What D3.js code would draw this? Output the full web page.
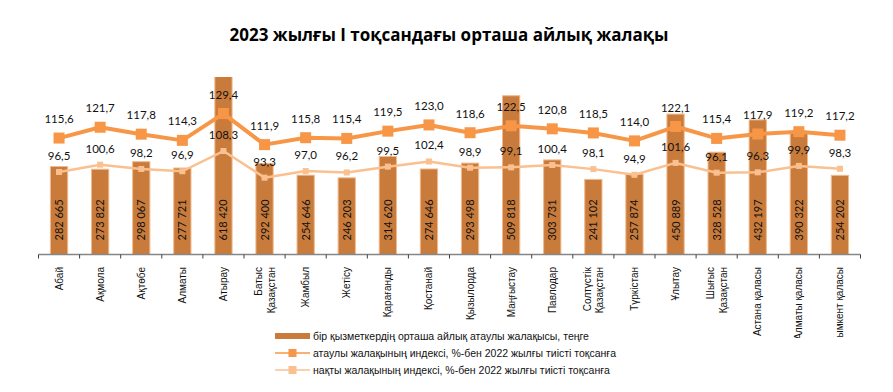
<!DOCTYPE html>
<html>
<head>
<meta charset="utf-8">
<script src="https://cdn.jsdelivr.net/npm/d3@7"></script>
<style>
  body { margin: 0; background: #fff; }
  svg { display: block; }
</style>
</head>
<body>
<svg id="chart"></svg>
<script>
const regions = ['Абай', 'Ақмола', 'Ақтөбе', 'Алматы', 'Атырау', 'Батыс Қазақстан', 'Жамбыл', 'Жетісу',
  'Қарағанды', 'Қостанай', 'Қызылорда', 'Маңғыстау', 'Павлодар', 'Солтүстік Қазақстан', 'Түркістан',
  'Ұлытау', 'Шығыс Қазақстан', 'Астана қаласы', 'Алматы қаласы', 'Шымкент қаласы'];

const wages = [282665, 273822, 298067, 277721, 618420, 292400, 254646, 246203, 314620, 274646,
  293498, 509818, 303731, 241102, 257874, 450889, 328528, 432197, 390322, 254202];

const nominalIndex = [115.6, 121.7, 117.8, 114.3, 129.4, 111.9, 115.8, 115.4, 119.5, 123.0,
  118.6, 122.5, 120.8, 118.5, 114.0, 122.1, 115.4, 117.9, 119.2, 117.2];

const realIndex = [96.5, 100.6, 98.2, 96.9, 108.3, 93.3, 97.0, 96.2, 99.5, 102.4,
  98.9, 99.1, 100.4, 98.1, 94.9, 101.6, 96.1, 96.3, 99.9, 98.3];

const legendLabels = [
  'бір қызметкердің орташа айлық атаулы жалақысы, теңге',
  'атаулы жалақының индексі, %-бен 2022 жылғы тиісті тоқсанға',
  'нақты жалақының индексі, %-бен 2022 жылғы тиісті тоқсанға'
];

const W = 893, H = 392;
const plot = { left: 38.5, right: 860.5, top: 77, bottom: 254.5 };

const barColor = '#c97b3b';
const barEdge = '#f2b98c';
const nomColor = '#f79646';
const realColor = '#fac090';
const fmtNum = d3.format(',.1f');
const comma = v => fmtNum(v).replace('.', ',');
const spaced = v => d3.format(',')(v).replace(/,/g, ' ');

const svg = d3.select('#chart').attr('width', W).attr('height', H);

// title
svg.append('text')
  .attr('x', 449).attr('y', 41)
  .attr('text-anchor', 'middle')
  .style('font-family', 'Open Sans, sans-serif')
  .style('font-weight', 'bold')
  .style('font-size', '17px')
  .text('2023 жылғы І тоқсандағы орташа айлық жалақы');

const x = d3.scaleBand()
  .domain(regions)
  .range([plot.left, plot.right])
  .paddingInner(0.58)
  .paddingOuter(0.29);

const yBar = d3.scaleLinear().domain([0, 570000]).range([plot.bottom, plot.top]);
const yIdx = d3.scaleLinear().domain([50, 150]).range([plot.bottom, plot.top]);

svg.append('clipPath').attr('id', 'plotClip')
  .append('rect')
  .attr('x', 0).attr('y', plot.top)
  .attr('width', W).attr('height', plot.bottom - plot.top);

// bars
svg.append('g')
  .attr('clip-path', 'url(#plotClip)')
  .selectAll('rect')
  .data(wages)
  .join('rect')
  .attr('x', (d, i) => x(regions[i]))
  .attr('y', d => yBar(d))
  .attr('width', x.bandwidth())
  .attr('height', d => plot.bottom - yBar(d))
  .style('fill', barColor)
  .style('stroke', barEdge)
  .style('stroke-width', 1);

// bar value labels
svg.append('g')
  .selectAll('text')
  .data(wages)
  .join('text')
  .attr('transform', (d, i) => `translate(${x(regions[i]) + x.bandwidth() / 2 + 4},${plot.bottom - 14})rotate(-90)`)
  .style('font-family', 'Lato, sans-serif')
  .style('font-size', '11px')
  .style('fill', '#111')
  .text(d => spaced(d));

// x axis: line plus a tick at each category boundary
const xAxis = svg.append('g')
  .attr('transform', `translate(0,${plot.bottom})`);
xAxis.append('line')
  .attr('x1', plot.left).attr('x2', plot.right)
  .style('stroke', '#868686').style('stroke-width', 1.5);
xAxis.selectAll('.tick')
  .data(d3.range(regions.length + 1))
  .join('line')
  .attr('x1', i => plot.left + i * x.step())
  .attr('x2', i => plot.left + i * x.step())
  .attr('y1', 0).attr('y2', 4)
  .style('stroke', '#404040').style('stroke-width', 1);

// category labels, clipped like the source
svg.append('clipPath').attr('id', 'labelClip')
  .append('rect').attr('x', 0).attr('y', 255).attr('width', W).attr('height', 83);

const catG = svg.append('g').attr('clip-path', 'url(#labelClip)');
regions.forEach((r, i) => {
  const parts = (r.endsWith('Қазақстан')) ? r.split(' ') : [r];
  const cx = x(r) + x.bandwidth() / 2;
  const t = catG.append('text')
    .attr('transform', `translate(${cx},267)rotate(-90)`)
    .attr('text-anchor', 'end')
    .style('font-family', 'Liberation Sans, Arial, sans-serif')
    .style('font-size', '10px')
    .style('fill', '#111');
  parts.forEach((p, j) => {
    t.append('tspan')
      .attr('x', 0)
      .attr('y', parts.length === 1 ? 3.5 : (j === 0 ? -2.5 : 10))
      .text(p);
  });
});

// index lines
function drawLine(values, color, width, markerSize, labelOffset) {
  const g = svg.append('g');
  g.append('path')
    .datum(values)
    .attr('d', d3.line()
      .x((d, i) => x(regions[i]) + x.bandwidth() / 2)
      .y(d => yIdx(d)))
    .style('fill', 'none')
    .style('stroke', color)
    .style('stroke-width', width)
    .style('stroke-linejoin', 'round');
  g.selectAll('rect')
    .data(values)
    .join('rect')
    .attr('x', (d, i) => x(regions[i]) + x.bandwidth() / 2 - markerSize / 2)
    .attr('y', d => yIdx(d) - markerSize / 2)
    .attr('width', markerSize)
    .attr('height', markerSize)
    .style('fill', color);
  g.selectAll('text')
    .data(values)
    .join('text')
    .attr('x', (d, i) => x(regions[i]) + x.bandwidth() / 2)
    .attr('y', d => yIdx(d) - labelOffset)
    .attr('text-anchor', 'middle')
    .style('font-family', 'Lato, sans-serif')
    .style('font-size', '11.5px')
    .style('fill', '#111')
    .text(d => comma(d));
}
drawLine(realIndex, realColor, 2.5, 6, 12);
drawLine(nominalIndex, nomColor, 4, 11, 15);

// legend
const lg = svg.append('g');
const lx = 275, lw = 35, tx = 313;
const rows = [336, 353, 370];
lg.append('rect').attr('x', lx).attr('y', rows[0] - 3).attr('width', lw).attr('height', 6).style('fill', barColor);
[[nomColor, 1.5, 8], [realColor, 1.5, 8]].forEach(([c, sw, ms], k) => {
  const y = rows[k + 1];
  lg.append('line').attr('x1', lx).attr('x2', lx + lw).attr('y1', y).attr('y2', y)
    .style('stroke', c).style('stroke-width', sw);
  lg.append('rect').attr('x', lx + lw / 2 - ms / 2).attr('y', y - ms / 2)
    .attr('width', ms).attr('height', ms).style('fill', c);
});
lg.selectAll('text')
  .data(legendLabels)
  .join('text')
  .attr('x', tx)
  .attr('y', (d, i) => rows[i] + 4)
  .style('font-family', 'Liberation Sans, Arial, sans-serif')
  .style('font-size', '10.5px')
  .style('fill', '#111')
  .text(d => d);
</script>
</body>
</html>
